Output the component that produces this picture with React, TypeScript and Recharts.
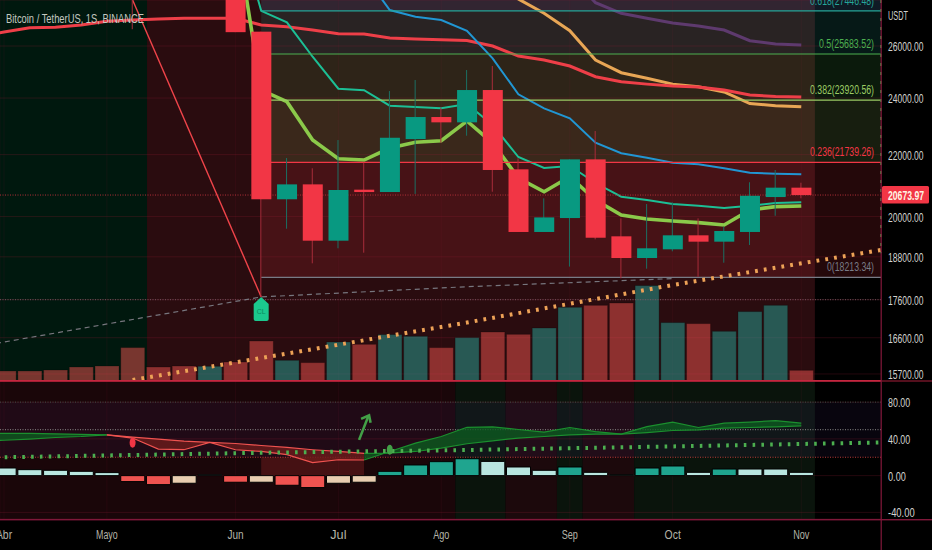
import {
  Area,
  Bar,
  CartesianGrid,
  Cell,
  ComposedChart,
  Line,
  ReferenceArea,
  ReferenceDot,
  ReferenceLine,
  XAxis,
  YAxis,
} from "recharts"

const n = null

// weekly candles, index 0 = first week of April. Null = body above the visible range
const OPEN = [n, n, n, n, n, 34060, n, n, n, 29919, 26580, 20540, 21016, 19272, 20845, 20770, 22533, 23310, 23120, 24298, 21508, 19532, 19955, 21840, 19402, 18765, 19018, 19432, 19243, 19532, 20610, 20910]
const CLOSE = [n, n, n, n, n, 31328, n, n, n, 26560, 20540, 21016, 19272, 20835, 20770, 22578, 23310, 23120, 24298, 21486, 19532, 19975, 21840, 19360, 18765, 19048, 19432, 19243, 19562, 20650, 20910, 20674]
const HIGH = [n, n, n, n, n, 34243, n, n, n, 31755, 26580, 21885, 21542, 22499, 21728, 24260, 24675, 23650, 25057, 25212, 21875, 20570, 21840, 22813, 19945, 20390, 20445, 19945, 19695, 21085, 21486, 21070]
const LOW = [n, n, n, n, n, 26680, n, n, n, 26560, 17675, 19631, 18613, 19048, 18920, 20770, 20710, 22405, 22650, 20780, 19532, 19532, 18520, 19312, 18190, 18460, 18960, 18230, 18630, 19145, 20025, 20570]

const VOLUME = [100, 100, 110, 140, 150, 334, 140, 150, 147, 190, 400, 207, 184, 390, 367, 464, 447, 334, 434, 490, 467, 530, 737, 757, 780, 954, 584, 574, 497, 694, 757, 107]

// red line also runs in from one week before index 0
const EMA_RED_X = [-1, 0, 1, 2, 3, 4, 5, 6, 7, 8, 9, 10, 11, 12, 13, 14, 15, 16, 17, 18, 19, 20, 21, 22, 23, 24, 25, 26, 27, 28, 29, 30, 31]
const EMA_RED = [26400, 26566, 26742, 26758, 26853, 27007, 27061, 27103, 27133, 27133, 27133, 26853, 26783, 26648, 26497, 26484, 26321, 26281, 26253, 26221, 26000, 25602, 25446, 25212, 24800, 24611, 24520, 24445, 24408, 24298, 24110, 24062, 24036]
const EMA_TEAL = [n, n, n, n, n, n, n, n, n, 31560, 27446, 26965, 25575, 24347, 24290, 23719, 23672, 23625, 23780, 23025, 21919, 21552, 21618, 21060, 20622, 20517, 20392, 20338, 20266, 20338, 20423, 20445]
const EMA_LIME = [n, n, n, n, n, n, n, n, n, 31080, 24298, 23865, 22499, 21862, 21818, 22224, 22420, 22475, 23168, 22395, 21223, 20780, 21265, 20517, 20050, 19927, 19866, 19814, 19744, 20204, 20308, 20330]
const EMA_BLUE = [n, n, n, n, n, n, n, n, n, n, n, n, n, n, 29000, 27480, 27199, 27061, 26619, 25513, 24138, 23623, 23265, 22405, 22045, 21895, 21728, 21675, 21543, 21397, 21364, 21345]
const EMA_ORANGE = [n, n, n, n, n, n, n, n, n, n, n, n, n, n, n, n, n, n, n, 29225, 27950, 27342, 26619, 25446, 24954, 24739, 24520, 24420, 24225, 23800, 23719, 23683]
const EMA_PURPLE = [n, n, n, n, n, n, n, n, n, n, n, n, n, n, n, n, n, n, n, n, n, n, 29000, 27790, 27342, 27133, 26936, 26814, 26648, 26214, 26080, 26040]

const FIB_LEVELS = ["0.618", "0.5", "0.382", "0.236", "0"]
const FIB_PRICES = [27446.48, 25683.52, 23920.56, 21739.26, 18213.34]

const TREND_DASH_X = [-1, 10, 18, 26]
const TREND_DASH_Y = [16376, 17675, 17955, 18180]
const TREND_DOT_X = [5, 10, 18, 26, 34.1]
const TREND_DOT_Y = [15555, 16090, 16993, 18002, 18998]
const ZIGZAG_X = [5, 10]
const ZIGZAG_Y = [27907, 17675]

const PRICE_TICKS = [26000, 24000, 22000, 20000, 18800, 17600, 16600, 15700]
const LAST_PRICE = 20673.97

const TICK_INDEX = [0, 4, 9, 13, 17, 22, 26, 31]
const TICK_LABELS = ["Abr", "Mayo", "Jun", "Jul", "Ago", "Sep", "Oct", "Nov"]

// oscillator, first value is one week before index 0
const OSC_X = [-1, 0, 1, 2, 3, 4, 5, 6, 7, 8, 9, 10, 11, 12, 13, 14, 15, 16, 17, 18, 19, 20, 21, 22, 23, 24, 25, 26, 27, 28, 29, 30, 31]
const OSC_SLOW = [37.9, 38.5, 39.8, 41.5, 42.6, 44.4, 42, 39.8, 37.6, 36.1, 35, 32.8, 30.7, 28.2, 26.3, 24.2, 24.6, 26.3, 30, 34.7, 37.9, 40.9, 42.6, 44.4, 45.2, 45.2, 46.9, 49.1, 49.9, 51.7, 52.4, 53.1, 54.2]
const OSC_FAST = [46.1, 46.1, 46.1, 45.5, 45, 44.4, 40.9, 28.9, 28.2, 36.1, 28.2, 26.3, 22.8, 14.1, 17.3, 17, 26.3, 35.4, 42.6, 52.6, 53.1, 50.2, 47.4, 52.4, 48, 45.2, 53.4, 58.2, 52.4, 57.1, 58.2, 59.9, 57.1]
const HIST = [8.3, 6.5, 5.8, 4.7, 3.3, -6.5, -9.8, -8.3, 1, -7.2, -7.2, -10.5, -13, -8.3, -7.2, 4.7, 11.6, 15.2, 18.4, 15.5, 9.4, 5.8, 9.4, 3.6, 1.1, 8.3, 10.5, 3.6, 7.2, 7.2, 7.2, 3.6]
const HIST_KIND = "LLLLLRRCLRCRRCCTTTTLLLTLLTTLTLLL"
const OSC_DOT_X = [-1, 10, 18, 26, 34.1]
const OSC_DOT_Y = [19.5, 24.9, 27.9, 31.8, 36.1]
const OSC_TICKS = [80, 40, 0, -40]

const X_MIN = -0.156
const X_MAX = 34.1
const FONT = "'Liberation Sans', Arial, sans-serif"
const SQUEEZE = 0.66 // the reference text is horizontally condensed

const priceRows = VOLUME.map((volume, i) => ({
  i,
  volume,
  open: OPEN[i],
  close: CLOSE[i],
  body: OPEN[i] == null ? null : [Math.min(OPEN[i]!, CLOSE[i]!), Math.max(OPEN[i]!, CLOSE[i]!)],
  wick: HIGH[i] == null ? null : [LOW[i], HIGH[i]],
  teal: EMA_TEAL[i],
  lime: EMA_LIME[i],
  blue: EMA_BLUE[i],
  orange: EMA_ORANGE[i],
  purple: EMA_PURPLE[i],
}))

const oscRows = OSC_X.map((i, k) => ({
  i,
  hist: i >= 0 ? HIST[i] : null,
  greenA: i <= 4 ? [OSC_SLOW[k], OSC_FAST[k]] : null,
  redZone: i >= 4 && i <= 14 ? [OSC_SLOW[k], OSC_FAST[k]] : null,
  greenB: i >= 14 ? [OSC_SLOW[k], OSC_FAST[k]] : null,
}))

const pairs = (xs: number[], ys: number[]) => xs.map((i, k) => ({ i, v: ys[k] }))

const HIST_COLORS: Record<string, string> = { L: "#b9e6e0", T: "#1fa58f", R: "#ef5350", C: "#e8cdb0" }

const Label = ({ x, y, text, fill, width, anchor = "start", weight = 400, size = 13.5 }: any) => (
  <text
    transform={`translate(${x} ${y}) scale(${SQUEEZE} 1)`}
    fill={fill}
    fontFamily={FONT}
    fontSize={size}
    fontWeight={weight}
    textAnchor={anchor}
    textLength={width / SQUEEZE}
    lengthAdjust="spacingAndGlyphs"
  >
    {text}
  </text>
)

const AxisTick = ({ y, payload }: any) => {
  const text = payload.value.toFixed(2)
  return <Label x={888} y={y + 5} text={text} fill="#d2d2ce" width={text.length * 4.45} />
}

const Candle = (props: any) => {
  const { x, y, width, height, payload } = props
  if (payload.open == null || !Number.isFinite(y)) return null
  const up = payload.close >= payload.open
  return <rect x={x} y={y} width={width} height={Math.max(height, 1)} fill={up ? "#089981" : "#f23645"} />
}

const Wick = (props: any) => {
  const { x, y, width, height, payload } = props
  if (payload.open == null || !Number.isFinite(y)) return null
  const up = payload.close >= payload.open
  return <rect x={x} y={y} width={width} height={height} fill={up ? "#1c6f62" : "#a82c3a"} />
}

const VolumeBar = (props: any) => {
  const { x, y, width, height, payload } = props
  const down = payload.open != null ? payload.close < payload.open : payload.i !== 8
  return (
    <rect
      x={x}
      y={y}
      width={width}
      height={height}
      fill={down ? "#ef5350" : "#26a69a"}
      fillOpacity={0.5}
      stroke="#000"
      strokeOpacity={0.25}
    />
  )
}

export default function App() {
  const xProps = {
    type: "number" as const,
    dataKey: "i",
    domain: [X_MIN, X_MAX],
    allowDataOverflow: true,
    hide: true,
    ticks: TICK_INDEX,
  }
  const gridH = "rgba(150,30,55,0.24)"
  const gridV = "rgba(150,30,55,0.1)"
  const emaLine = (key: string, color: string, width: number) => (
    <Line
      key={key}
      xAxisId="x"
      yAxisId="price"
      dataKey={key}
      stroke={color}
      strokeWidth={width}
      dot={false}
      activeDot={false}
      isAnimationActive={false}
      zIndex={300}
    />
  )
  const fibBand = (y1: number, y2: number, fill: string) => (
    <ReferenceArea
      xAxisId="x"
      yAxisId="price"
      x1={10}
      x2={X_MAX}
      y1={y1}
      y2={y2}
      fill={fill}
      fillOpacity={0.15}
      stroke="none"
      ifOverflow="hidden"
      zIndex={20}
    />
  )
  const fibColors = ["#26a69a", "#4caf50", "#9ccc65", "#f23645", "#787b86"]
  const fibWidths = [64, 55, 64, 64, 47]
  const oscBand = (x1: number, x2: number, fill: string) => (
    <ReferenceArea xAxisId="x" yAxisId="osc" x1={x1} x2={x2} fill={fill} fillOpacity={1} stroke="none" ifOverflow="hidden" zIndex={10} />
  )
  const oscArea = (key: string, stroke: string, fill: string) => (
    <Area
      xAxisId="x"
      yAxisId="osc"
      dataKey={key}
      type="linear"
      stroke={stroke}
      strokeWidth={1.2}
      fill={fill}
      fillOpacity={0.8}
      dot={false}
      activeDot={false}
      isAnimationActive={false}
      zIndex={200}
    />
  )
  const level = (y: number, color: string) => (
    <ReferenceLine xAxisId="x" yAxisId="osc" y={y} stroke={color} strokeDasharray="1 1.5" zIndex={40} />
  )

  return (
    <div style={{ position: "absolute", left: 0, top: 0, width: 932, height: 550, background: "#000", overflow: "hidden" }}>
      <div style={{ position: "absolute", left: 0, top: 0 }}>
        <ComposedChart width={932} height={381} data={priceRows} margin={{ top: 0, right: 0, bottom: 0, left: 0 }}>
          <XAxis xAxisId="x" {...xProps} />
          <XAxis xAxisId="wick" {...xProps} />
          <XAxis xAxisId="body" {...xProps} />
          <XAxis xAxisId="vol" {...xProps} />
          <YAxis
            yAxisId="price"
            orientation="right"
            type="number"
            scale="log"
            width={51}
            domain={[15531, 27907]}
            allowDataOverflow
            ticks={PRICE_TICKS}
            interval={0}
            axisLine={false}
            tickLine={false}
            tick={AxisTick}
          />
          <YAxis yAxisId="volume" hide type="number" domain={[0, 3810]} allowDataOverflow />

          {/* session background */}
          <ReferenceArea xAxisId="x" yAxisId="price" x1={X_MIN} x2={5.56} fill="#00180e" fillOpacity={1} stroke="none" ifOverflow="hidden" zIndex={10} />
          <ReferenceArea xAxisId="x" yAxisId="price" x1={5.56} x2={31.53} fill="#2a0c0f" fillOpacity={1} stroke="none" ifOverflow="hidden" zIndex={10} />

          {/* fib zones */}
          {fibBand(FIB_PRICES[1], FIB_PRICES[0], "#26a69a")}
          {fibBand(27907, FIB_PRICES[0], "#64b5f6")}
          {fibBand(FIB_PRICES[2], FIB_PRICES[1], "#4caf50")}
          {fibBand(FIB_PRICES[3], FIB_PRICES[2], "#9ccc65")}
          {fibBand(FIB_PRICES[4], FIB_PRICES[3], "#f23645")}

          <CartesianGrid xAxisId="x" yAxisId="price" stroke={gridH} vertical={false} zIndex={30} />
          <CartesianGrid xAxisId="x" yAxisId="price" stroke={gridV} horizontal={false} zIndex={30} />

          <Bar xAxisId="vol" yAxisId="volume" dataKey="volume" barSize={24} shape={VolumeBar} isAnimationActive={false} zIndex={100} />

          {emaLine("purple", "#5e3a6e", 3)}
          {emaLine("orange", "#e8a655", 3)}
          <Line
            xAxisId="x"
            yAxisId="price"
            data={pairs(EMA_RED_X, EMA_RED)}
            dataKey="v"
            stroke="#ee3f48"
            strokeWidth={3}
            dot={false}
            activeDot={false}
            isAnimationActive={false}
            zIndex={300}
          />
          {emaLine("blue", "#2196d3", 2)}
          {emaLine("teal", "#1cbf95", 2)}
          {emaLine("lime", "#8bc94a", 3.6)}

          {FIB_PRICES.map((price, k) => (
            <ReferenceLine
              key={FIB_LEVELS[k]}
              xAxisId="x"
              yAxisId="price"
              segment={[{ x: 10, y: price }, { x: X_MAX, y: price }]}
              stroke={fibColors[k]}
              strokeWidth={1.2}
              zIndex={320}
            />
          ))}
          <ReferenceLine xAxisId="x" yAxisId="price" y={LAST_PRICE} stroke="#b03038" strokeDasharray="1 1.5" zIndex={320} />
          <ReferenceLine xAxisId="x" yAxisId="price" y={17600} stroke="#6e5a60" strokeDasharray="1 1.5" zIndex={320} />

          <Line
            xAxisId="x"
            yAxisId="price"
            data={pairs(TREND_DASH_X, TREND_DASH_Y)}
            dataKey="v"
            stroke="#77767e"
            strokeWidth={1.2}
            strokeDasharray="5 4"
            dot={false}
            activeDot={false}
            isAnimationActive={false}
            zIndex={330}
          />
          <Line
            xAxisId="x"
            yAxisId="price"
            data={pairs(ZIGZAG_X, ZIGZAG_Y)}
            dataKey="v"
            stroke="#f0444a"
            strokeWidth={1.4}
            dot={false}
            activeDot={false}
            isAnimationActive={false}
            zIndex={330}
          />
          <Line
            xAxisId="x"
            yAxisId="price"
            data={pairs(TREND_DOT_X, TREND_DOT_Y)}
            dataKey="v"
            stroke="#eda257"
            strokeWidth={4}
            strokeDasharray="2.8 6.1"
            dot={false}
            activeDot={false}
            isAnimationActive={false}
            zIndex={340}
          />

          <Bar xAxisId="wick" yAxisId="price" dataKey="wick" barSize={1} shape={Wick} isAnimationActive={false} zIndex={400} />
          <Bar xAxisId="body" yAxisId="price" dataKey="body" barSize={20} shape={Candle} isAnimationActive={false} zIndex={410} />

          {FIB_PRICES.map((price, k) => (
            <ReferenceDot
              key={FIB_LEVELS[k]}
              xAxisId="x"
              yAxisId="price"
              x={X_MAX}
              y={price}
              ifOverflow="visible"
              zIndex={500}
              shape={(p: any) => (
                <Label x={p.cx - 7} y={p.cy - 6} text={`${FIB_LEVELS[k]}(${price.toFixed(2)})`} fill={fibColors[k]} width={fibWidths[k]} anchor="end" />
              )}
            />
          ))}

          <ReferenceDot
            xAxisId="x"
            yAxisId="price"
            x={10}
            y={LOW[10]!}
            ifOverflow="visible"
            zIndex={510}
            shape={(p: any) => (
              <g>
                <path
                  d={`M${p.cx} ${p.cy} L${p.cx + 7.5} ${p.cy + 7} V${p.cy + 22} Q${p.cx + 7.5} ${p.cy + 24} ${p.cx + 5.5} ${p.cy + 24} H${p.cx - 5.5} Q${p.cx - 7.5} ${p.cy + 24} ${p.cx - 7.5} ${p.cy + 22} V${p.cy + 7} Z`}
                  fill="#1bc88e"
                />
                <text x={p.cx} y={p.cy + 17} fill="#0b8a60" fontSize={7} fontFamily={FONT} textAnchor="middle">CL</text>
              </g>
            )}
          />

          <ReferenceDot
            xAxisId="x"
            yAxisId="price"
            x={X_MAX}
            y={LAST_PRICE}
            ifOverflow="visible"
            zIndex={520}
            shape={(p: any) => (
              <g>
                <rect x={p.cx + 1} y={p.cy - 9} width={47} height={17.5} rx={1.5} fill="#f23645" />
                <Label x={p.cx + 7} y={p.cy + 5} text={LAST_PRICE.toFixed(2)} fill="#fff4e4" width={36} weight={700} />
              </g>
            )}
          />

          <ReferenceLine
            xAxisId="x"
            yAxisId="price"
            segment={[{ x: X_MAX, y: 27907 }, { x: X_MAX, y: 18900 }]}
            stroke="#4caf50"
            strokeWidth={1.5}
            strokeDasharray="3 6"
            ifOverflow="visible"
            zIndex={530}
          />
        </ComposedChart>
      </div>

      <div style={{ position: "absolute", left: 0, top: 381 }}>
        <ComposedChart width={932} height={169} data={oscRows} margin={{ top: 0, right: 0, bottom: 31, left: 0 }}>
          <XAxis xAxisId="x" {...xProps} />
          <XAxis xAxisId="hist" {...xProps} />
          <YAxis
            yAxisId="osc"
            orientation="right"
            type="number"
            width={51}
            domain={[-47.2, 103]}
            allowDataOverflow
            ticks={OSC_TICKS}
            interval={0}
            axisLine={false}
            tickLine={false}
            tick={AxisTick}
          />

          {oscBand(X_MIN, 17.55, "#1a0609")}
          {oscBand(17.55, 19.5, "#0a140c")}
          {oscBand(19.5, 21.5, "#1c090c")}
          {oscBand(21.5, 22.5, "#0a140c")}
          {oscBand(22.5, 24.5, "#1c090c")}
          {oscBand(24.5, 31.53, "#0a140c")}
          <ReferenceArea xAxisId="x" yAxisId="osc" x1={X_MIN} x2={X_MAX} y1={20} y2={80} fill="#7040c0" fillOpacity={0.07} stroke="none" ifOverflow="hidden" zIndex={15} />
          <ReferenceArea xAxisId="x" yAxisId="osc" x1={10} x2={14} y1={0} y2={20} fill="#6a1c1c" fillOpacity={0.55} stroke="none" ifOverflow="hidden" zIndex={18} />

          <CartesianGrid xAxisId="x" yAxisId="osc" stroke={gridH} vertical={false} zIndex={30} />
          <CartesianGrid xAxisId="x" yAxisId="osc" stroke={gridV} horizontal={false} zIndex={30} />
          {level(80, "#3e5248")}
          {level(50, "#8a8a88")}
          {level(20, "#b83a3a")}

          {oscArea("greenA", "#1b8f2e", "#0d5a1f")}
          {oscArea("redZone", "#ef5350", "#6d1c1c")}
          {oscArea("greenB", "#1b8f2e", "#0d5a1f")}

          <Bar xAxisId="hist" yAxisId="osc" dataKey="hist" barSize={24} stroke="#000" isAnimationActive={false} zIndex={300}>
            {HIST.concat([0]).map((_, k) => (
              <Cell key={k} fill={k === 0 ? "none" : HIST_COLORS[HIST_KIND[k - 1]]} />
            ))}
          </Bar>

          <Line
            xAxisId="x"
            yAxisId="osc"
            data={pairs(OSC_DOT_X, OSC_DOT_Y)}
            dataKey="v"
            stroke="#4caf50"
            strokeWidth={4}
            strokeDasharray="2.6 6.2"
            dot={false}
            activeDot={false}
            isAnimationActive={false}
            zIndex={350}
          />

          <ReferenceDot xAxisId="x" yAxisId="osc" x={5} y={35.8} ifOverflow="visible" zIndex={400}
            shape={(p: any) => <ellipse cx={p.cx} cy={p.cy} rx={3} ry={5} fill="#f23645" />} />
          <ReferenceDot xAxisId="x" yAxisId="osc" x={15} y={28.2} ifOverflow="visible" zIndex={400}
            shape={(p: any) => <ellipse cx={p.cx} cy={p.cy} rx={3} ry={5} fill="#43a047" />} />
          <ReferenceDot xAxisId="x" yAxisId="osc" x={14} y={52} ifOverflow="visible" zIndex={400}
            shape={(p: any) => (
              <g stroke="#43a047" fill="none" strokeWidth={2.6}>
                <path d={`M${p.cx - 5} ${p.cy + 12} L${p.cx + 4} ${p.cy - 11}`} />
                <path d={`M${p.cx - 3} ${p.cy - 9} L${p.cx + 5} ${p.cy - 12.5} L${p.cx + 6.5} ${p.cy - 5}`} />
              </g>
            )} />

          {/* month labels hang under the pane, anchored on the pane's bottom value */}
          {TICK_INDEX.map((i, k) => (
            <ReferenceDot
              key={TICK_LABELS[k]}
              xAxisId="x"
              yAxisId="osc"
              x={i}
              y={-47.2}
              ifOverflow="visible"
              zIndex={600}
              shape={(p: any) => (
                <Label x={p.cx} y={p.cy + 20} text={TICK_LABELS[k]} fill="#b4b4a8" width={TICK_LABELS[k].length * 5.4} anchor="middle" />
              )}
            />
          ))}
        </ComposedChart>
      </div>

      {/* pane separators and scale frame */}
      <svg width={932} height={550} style={{ position: "absolute", left: 0, top: 0, pointerEvents: "none" }}>
        <rect x={0} y={380} width={881} height={1.8} fill="#c4263f" />
        <rect x={881} y={380.5} width={51} height={1} fill="#a81e3a" />
        <rect x={0} y={519} width={932} height={1.4} fill="#80183a" />
        <rect x={880.6} y={0} width={1.2} height={550} fill="#80183a" />
        <Label x={6} y={23} text="Bitcoin / TetherUS, 1S, BINANCE" fill="#c4c8c0" width={138} />
        <Label x={888} y={20} text="USDT" fill="#d2d2ce" width={20} />
      </svg>
    </div>
  )
}
